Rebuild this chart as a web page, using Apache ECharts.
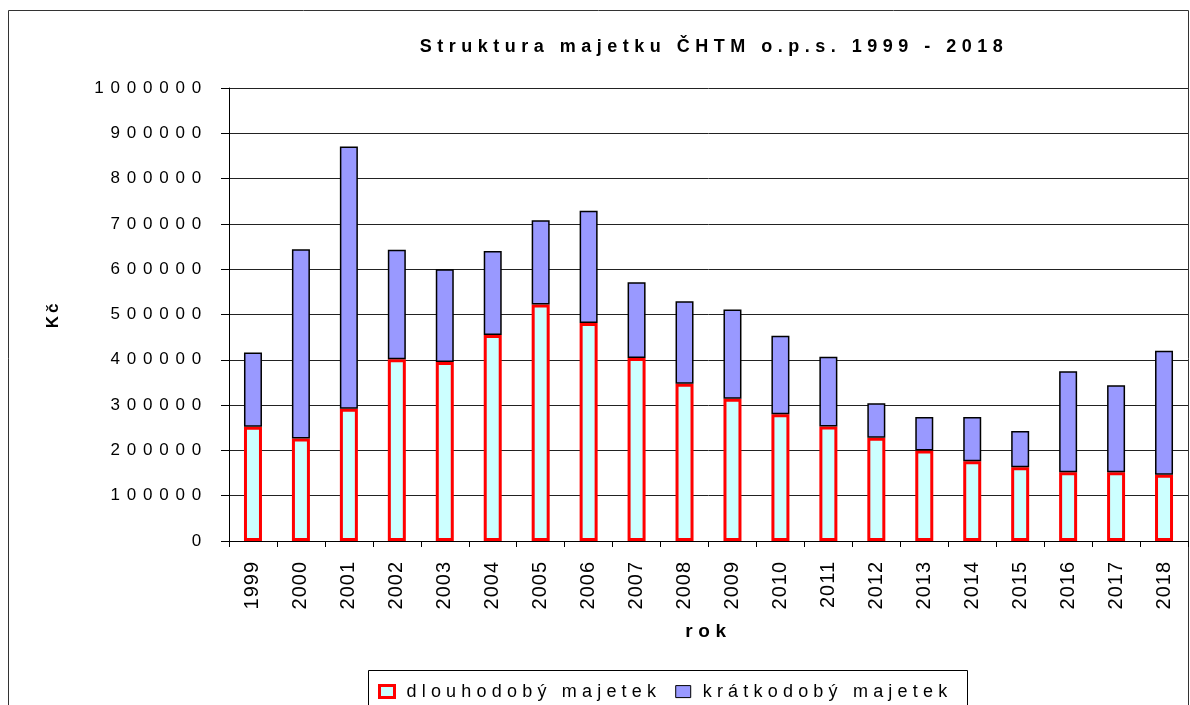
<!DOCTYPE html>
<html>
<head>
<meta charset="utf-8">
<script src="https://cdn.jsdelivr.net/npm/echarts@6/dist/echarts.min.js"></script>
<style>html,body{margin:0;padding:0;background:#fff}#c{width:1190px;height:705px}</style>
</head>
<body>
<div id="c"></div>
<script>
// Data
const years = ['1999','2000','2001','2002','2003','2004','2005','2006','2007','2008','2009','2010','2011','2012','2013','2014','2015','2016','2017','2018'];
const dlouhodoby = [252000,226000,292000,401000,395000,455000,522000,481000,404000,347000,314000,280000,253000,228000,200000,176000,163000,152000,152000,146000];
const kratkodoby = [164000,418000,579000,242000,205000,185000,186000,248000,167000,182000,197000,173000,154000,76000,74000,98000,80000,223000,192000,274000];
const seriesNames = ['dlouhodobý majetek','krátkodobý majetek'];
const titleText = 'Struktura majetku ČHTM o.p.s. 1999 - 2018';

// Emulate the wide letter spacing of the original export
(function(){
  const P = CanvasRenderingContext2D.prototype;
  const map = {b18:5.5, n17:6.8, n20:1, n18:5.2, b17:3, b19:5.7};
  function sp(ctx){
    const f = ctx.font || '';
    const m = /(\d+(?:\.\d+)?)px/.exec(f);
    const size = m ? Math.round(parseFloat(m[1])) : 0;
    const bold = /bold|[6-9]00/.test(f);
    const key = (bold ? 'b' : 'n') + size;
    try { ctx.letterSpacing = (map[key] || 0) + 'px'; } catch(e) {}
  }
  ['fillText','strokeText','measureText'].forEach(function(n){
    const o = P[n];
    P[n] = function(){ sp(this); return o.apply(this, arguments); };
  });
})();

const FF = '"Liberation Sans", Arial, sans-serif';
const chart = echarts.init(document.getElementById('c'), null, {renderer:'canvas'});
chart.setOption({
  animation: false,
  backgroundColor: '#fff',
  textStyle: {fontFamily: FF, color: '#000'},
  title: {
    text: titleText,
    left: 714, top: 35, padding: 0, textAlign: 'center',
    textStyle: {fontFamily: FF, fontSize: 18, fontWeight: 'bold', color: '#000'}
  },
  legend: {
    left: 378, top: 680, padding: 0,
    icon: 'rect', itemWidth: 15, itemHeight: 12, itemGap: 14,
    textStyle: {fontFamily: FF, fontSize: 18, color: '#000', padding: [0,0,0,7]},
    data: [
      {name: seriesNames[0], itemStyle: {color: '#ccffff', borderColor: '#ff0000', borderWidth: 3}},
      {name: seriesNames[1], itemStyle: {color: '#9999ff', borderColor: '#000', borderWidth: 1}}
    ]
  },
  graphic: [
    {type: 'rect', silent: true, z: -1, shape: {x: 8.5, y: 10.5, width: 1180, height: 720}, style: {fill: 'none', stroke: '#333', lineWidth: 1}},
    {type: 'rect', silent: true, shape: {x: 368.5, y: 670.5, width: 599, height: 60}, style: {fill: 'none', stroke: '#000', lineWidth: 1}}
  ],
  grid: {left: 229, right: 2, top: 88, bottom: 164, containLabel: false},
  xAxis: {
    type: 'category', data: years,
    name: 'rok', nameLocation: 'middle', nameGap: 78,
    nameTextStyle: {fontFamily: FF, fontSize: 19, fontWeight: 'bold', color: '#000'},
    axisLine: {lineStyle: {color: '#000', width: 1}},
    axisTick: {show: true, length: 6, interval: 0, lineStyle: {color: '#000'}},
    axisLabel: {rotate: 90, margin: 20, interval: 0, fontFamily: FF, fontSize: 20, color: '#000'}
  },
  yAxis: {
    type: 'value', min: 0, max: 1000000, interval: 100000,
    name: 'Kč', nameLocation: 'middle', nameGap: 166, nameRotate: 90,
    nameTextStyle: {fontFamily: FF, fontSize: 17, fontWeight: 'bold', color: '#000'},
    axisLine: {show: true, lineStyle: {color: '#000', width: 1}},
    axisTick: {show: true, length: 8, lineStyle: {color: '#000'}},
    axisLabel: {margin: 21, fontFamily: FF, fontSize: 17, color: '#000', formatter: function(v){ return String(v); }},
    splitLine: {show: true, lineStyle: {color: '#222', width: 1}}
  },
  series: [
    {
      name: seriesNames[0], type: 'bar', stack: 'total', data: dlouhodoby, barWidth: 18,
      itemStyle: {color: '#ccffff', borderColor: '#ff0000', borderWidth: 3}
    },
    {
      name: seriesNames[1], type: 'bar', stack: 'total', data: kratkodoby, barWidth: 18,
      itemStyle: {color: '#9999ff', borderColor: '#000', borderWidth: 1.5}
    }
  ]
});
</script>
</body>
</html>
